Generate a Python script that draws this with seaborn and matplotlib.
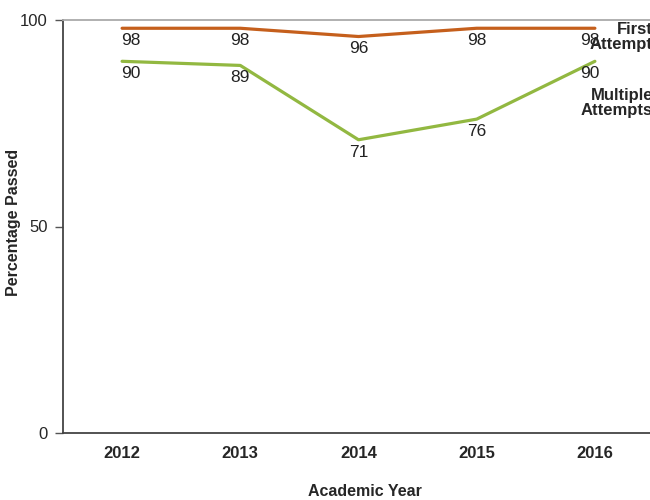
import numpy as np
import pandas as pd
import matplotlib
matplotlib.use('Agg')
import matplotlib.pyplot as plt
import seaborn as sns


years = ['2012', '2013', '2014', '2015', '2016']
first_attempt = [98, 98, 96, 98, 98]
multiple_attempts = [90, 89, 71, 76, 90]
series_names = ['First\nAttempt', 'Multiple\nAttempts']
colors = ['#C55F1C', '#92B841']


def main():

    df = pd.DataFrame({
        'year': years * 2,
        'value': first_attempt + multiple_attempts,
        'series': [series_names[0]] * len(years) + [series_names[1]] * len(years),
    })

    sns.set_style('white')
    plt.rcParams['font.family'] = ['Liberation Sans', 'DejaVu Sans']

    fig = plt.figure(figsize=(6.5, 5), dpi=100)
    ax = fig.add_axes([63 / 650, 67 / 500, 591 / 650, 413 / 500])

    sns.lineplot(data=df, x='year', y='value', hue='series', palette=colors,
                 linewidth=2.3, legend=False, ax=ax, sort=False)
    ax.set_xlabel('')
    ax.set_ylabel('')

    ax.set_xlim(-0.5, len(years) - 0.5)
    ax.set_ylim(0, 100)
    ax.set_yticks([0, 50, 100])
    ax.set_yticklabels(['0', '50', '100'], fontsize=12)
    ax.set_xticks(range(len(years)))
    ax.set_xticklabels(years, fontsize=12, fontweight='bold')
    ax.set_xticks(np.arange(-0.5, len(years), 1), minor=True)
    ax.tick_params(axis='x', which='major', length=0, pad=9)
    ax.tick_params(axis='x', which='minor', length=4, width=1, color='#555555', direction='inout')
    ax.tick_params(axis='y', length=6, width=1, color='#555555', direction='out', pad=5, left=True)

    for side in ['left', 'bottom']:
        ax.spines[side].set_color('#444444')
        ax.spines[side].set_linewidth(1.3)
    ax.spines['top'].set_color('#aaaaaa')
    ax.spines['top'].set_linewidth(1.3)
    ax.spines['right'].set_visible(False)

    # value labels under each point
    n = len(years)
    for vals in [first_attempt, multiple_attempts]:
        for i, v in enumerate(vals):
            ha = 'left' if i == 0 else ('right' if i == n - 1 else 'center')
            dx = -0.01 if i == 0 else (0.04 if i == n - 1 else 0.0)
            ax.text(i + dx, v - 1.2, str(v), ha=ha, va='top', fontsize=12.5, color='#222222')

    # series labels at the right, cut by the figure edge
    fig.text(653 / 650, 1 - 22 / 500, series_names[0], ha='right', va='top',
             fontsize=12, fontweight='bold', linespacing=1.0)
    fig.text(653 / 650, 1 - 88 / 500, series_names[1], ha='right', va='top',
             fontsize=12, fontweight='bold', linespacing=1.0)

    fig.text(14 / 650, 1 - 222 / 500, 'Percentage Passed', rotation=90, ha='center', va='center',
             fontsize=11.5, fontweight='bold')
    fig.text(365 / 650, 1 - 492 / 500, 'Academic Year', ha='center', va='center',
             fontsize=11.5, fontweight='bold')

    fig.savefig('out.png', dpi=100)


if __name__ == '__main__':
    main()
